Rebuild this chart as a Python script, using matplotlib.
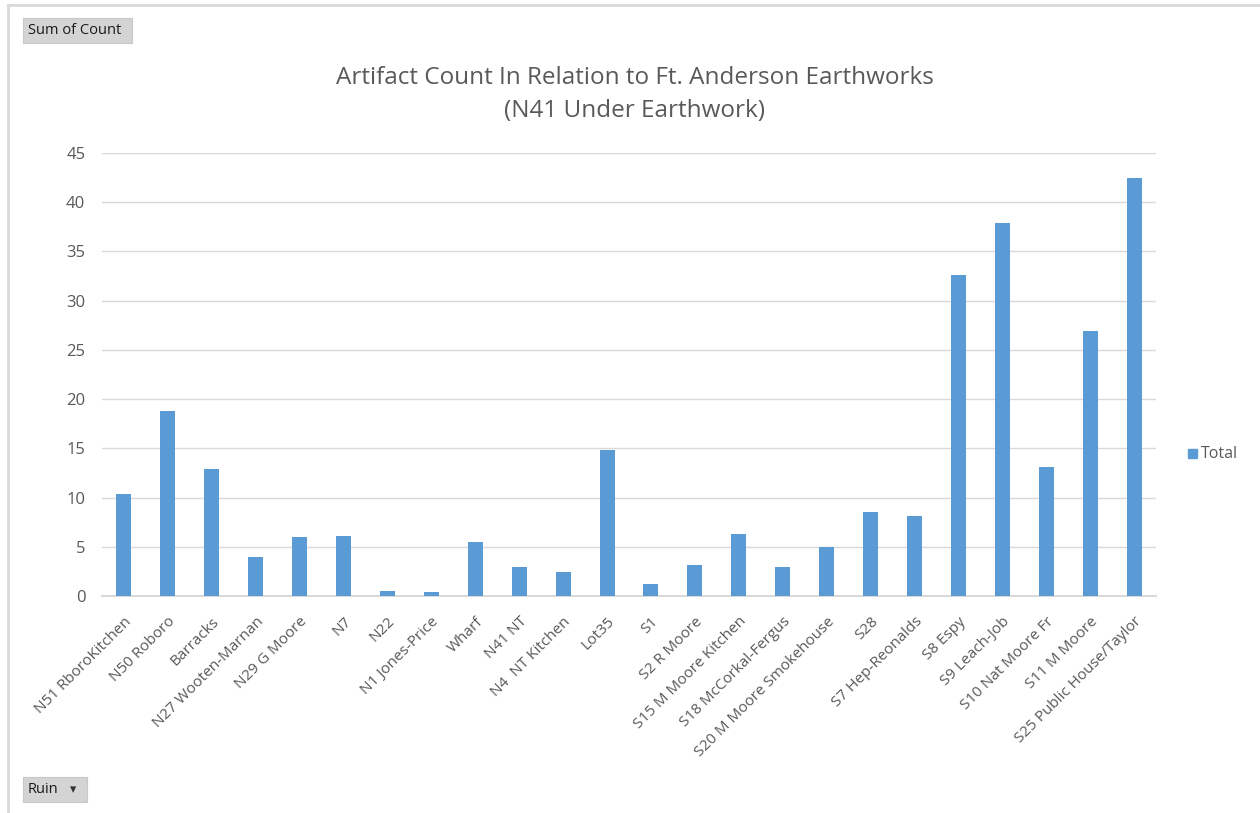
import matplotlib
matplotlib.use("Agg")
import matplotlib.pyplot as plt
from matplotlib.patches import Rectangle

plt.rcParams['font.family'] = ['Open Sans', 'DejaVu Sans']

sites = ["N51 RboroKitchen", "N50 Roboro", "Barracks", "N27 Wooten-Marnan",
         "N29 G Moore", "N7", "N22", "N1 Jones-Price", "Wharf", "N41 NT",
         "N4  NT Kitchen", "Lot35", "S1", "S2 R Moore", "S15 M Moore Kitchen",
         "S18 McCorkal-Fergus", "S20 M Moore Smokehouse", "S28", "S7 Hep-Reonalds",
         "S8 Espy", "S9 Leach-Job", "S10 Nat Moore Fr", "S11 M Moore",
         "S25 Public House/Taylor"]
totals = [10.4, 18.8, 12.9, 4.0, 6.0, 6.1, 0.5, 0.4, 5.5, 2.95, 2.45, 14.8,
          1.2, 3.15, 6.3, 2.95, 5.0, 8.5, 8.1, 32.6, 37.9, 13.1, 26.9, 42.5]
yticks = [0, 5, 10, 15, 20, 25, 30, 35, 40, 45]

W, H = 1260, 813
fig = plt.figure(figsize=(W / 100, H / 100), dpi=100)

# axes placed in pixel coords
left, right, top, bottom = 102, 1156, 153, 596
ax = fig.add_axes([left / W, 1 - bottom / H, (right - left) / W, (bottom - top) / H])

bar_color = "#5b9bd5"
x = list(range(len(sites)))
ax.bar(x, totals, width=0.34, color=bar_color, zorder=3, label="Total")
ax.set_xlim(-0.5, len(sites) - 0.5)
ax.set_ylim(0, 45)
ax.set_yticks(yticks)
ax.set_yticklabels([str(v) for v in yticks], fontsize=12, color="#595959")
ax.set_xticks(x)
ax.set_xticklabels(sites, rotation=45, ha="right", rotation_mode="anchor",
                   fontsize=11, color="#595959")
ax.tick_params(axis="y", length=0, pad=12)
ax.tick_params(axis="x", length=0, pad=13)
ax.grid(axis="y", color="#d9d9d9", linewidth=1, zorder=0)
for s in ["top", "right", "left"]:
    ax.spines[s].set_visible(False)
ax.spines["bottom"].set_color("#d9d9d9")
ax.spines["bottom"].set_linewidth(1.5)

fig.text(635 / W, 1 - 78 / H, "Artifact Count In Relation to Ft. Anderson Earthworks",
         ha="center", va="center", fontsize=17.5, color="#595959")
fig.text(635 / W, 1 - 111 / H, "(N41 Under Earthwork)",
         ha="center", va="center", fontsize=17.5, color="#595959")

# legend
fig.patches.append(Rectangle((1188 / W, 1 - 458 / H), 9 / W, 9 / H,
                             transform=fig.transFigure, color=bar_color))
fig.text(1201 / W, 1 - 454 / H, "Total", ha="left", va="center",
         fontsize=11.5, color="#595959")

# outer frame
fig.add_artist(plt.Line2D([8 / W, 8 / W], [0, 1 - 5 / H], transform=fig.transFigure,
                          color="#d9d9d9", linewidth=2))
fig.add_artist(plt.Line2D([8 / W, 1], [1 - 5 / H, 1 - 5 / H], transform=fig.transFigure,
                          color="#d9d9d9", linewidth=2))

# pivot field buttons
def button(x0, y0, w, h, label):
    fig.patches.append(Rectangle((x0 / W, 1 - (y0 + h) / H), w / W, h / H,
                                 transform=fig.transFigure, facecolor="#d4d4d4",
                                 edgecolor="#c8c8c8", linewidth=0.8))
    fig.text((x0 + 5) / W, 1 - (y0 + h / 2) / H, label, ha="left", va="center",
             fontsize=10.5, color="#1a1a1a")

button(23, 18, 109, 25, "Sum of Count")
button(23, 777, 64, 25, "Ruin")
fig.text(73 / W, 1 - 790 / H, "\u25BE", ha="center", va="center", fontsize=9, color="#333333")

fig.savefig("out.png", dpi=100)
